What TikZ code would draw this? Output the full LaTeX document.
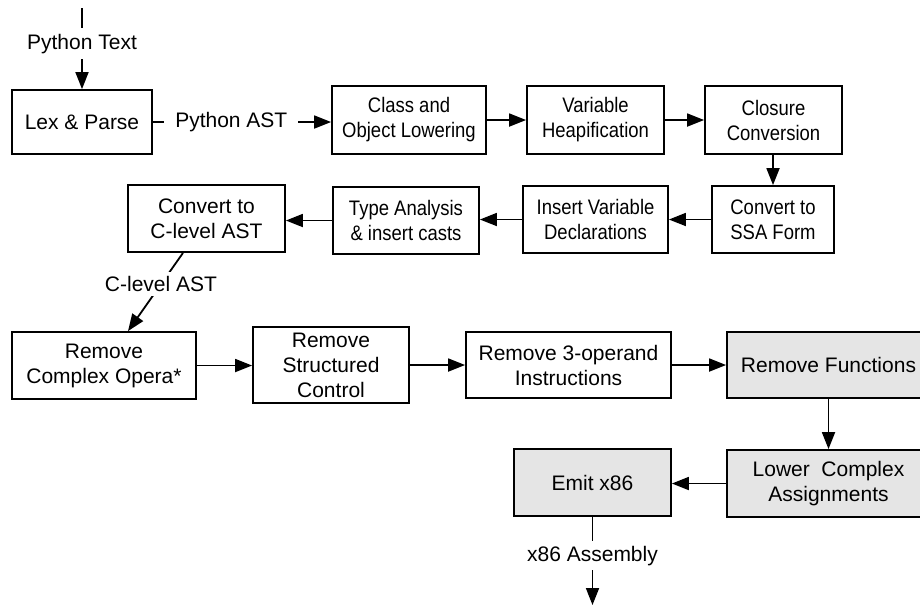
\documentclass[tikz,border=0pt]{standalone}
\usepackage{fontspec}
\setmainfont{Liberation Sans}
\newfontfamily\narrowfont[FakeStretch=0.88]{Liberation Sans}
\usetikzlibrary{arrows.meta}
\definecolor{boxgray}{HTML}{E5E5E5}
\begin{document}
\begin{tikzpicture}[x=1pt,y=-1pt,
  every node/.style={font=\fontsize{21}{25}\selectfont},
  stage/.style={draw, line width=1.8pt, inner sep=0pt, align=center, fill=white},
  grey/.style={stage, fill=boxgray},
  narrow/.style={font=\fontsize{21}{25}\selectfont\narrowfont},
  flow/.style={line width=1.8pt, -{Triangle[length=17pt,width=13pt]}},
  lab/.style={fill=white, inner sep=6pt}]
\useasboundingbox (0,0) rectangle (920,606);
\clip (0,0) rectangle (920,606);
\node[stage, minimum width=140pt, minimum height=64pt] (lex) at (82,122) {Lex \& Parse};
\node[stage, narrow, minimum width=154pt, minimum height=68pt] (cls) at (409,120) {Class and\\Object Lowering};
\node[stage, narrow, minimum width=137pt, minimum height=68pt] (heap) at (595.5,120) {Variable\\Heapification};
\node[stage, narrow, minimum width=137pt, minimum height=68pt] (clo) at (773.5,120) {Closure\\Conversion};
\node[stage, narrow, minimum width=122pt, minimum height=67pt] (ssa) at (773,219.5) {Convert to\\SSA Form};
\node[stage, narrow, minimum width=145pt, minimum height=67pt] (ins) at (595.5,219.5) {Insert Variable\\Declarations};
\node[stage, narrow, minimum width=146pt, minimum height=67pt] (typ) at (406,220.5) {Type Analysis\\\& insert casts};
\node[stage, minimum width=157pt, minimum height=67pt] (cl) at (206.5,218.5) {Convert to\\C-level AST};
\node[stage, minimum width=184pt, minimum height=67pt] (rco) at (104,365.5) {Remove\\Complex Opera*};
\node[stage, minimum width=156pt, minimum height=76pt] (rsc) at (331,365) {Remove\\Structured\\Control};
\node[stage, minimum width=205pt, minimum height=66pt] (r3) at (568.5,365) {Remove 3-operand\\Instructions};
\node[grey, minimum width=203pt, minimum height=66pt] (rf) at (828.5,365) {Remove Functions};
\node[grey, minimum width=203pt, minimum height=67pt] (lca) at (828.5,483.5) {Lower\ \ Complex\\Assignments};
\node[grey, minimum width=157pt, minimum height=67pt] (emit) at (592.5,482.5) {Emit x86};
\coordinate (src) at (82,8);
\coordinate (out) at (592.5,605);
\draw[flow] (src) -- node[lab, pos=0.44] {Python Text} (lex);
\draw[flow] (lex.east) -- node[lab, pos=0.44, inner xsep=11pt] {Python AST} (lex.east -| cls.west);
\draw[flow] (cls) -- (heap);
\draw[flow] (heap) -- (clo);
\draw[flow] (clo.south -| ssa) -- (ssa);
\draw[flow] (ssa) -- (ins);
\draw[flow] (ins) -- (ins -| typ.east);
\draw[flow] (typ.west) -- (typ.west -| cl.east);
\draw[flow] ([xshift=-23.5pt]cl.south) -- node[lab, pos=0.4, inner sep=4pt] {C-level AST} ([xshift=24pt]rco.north);
\draw[flow] (rco) -- (rco -| rsc.west);
\draw[flow] (rsc) -- (r3);
\draw[flow] (r3) -- (rf);
\draw[flow] (rf) -- (lca);
\draw[flow] (lca.west) -- (lca.west -| emit.east);
\draw[flow] (emit) -- node[lab, pos=0.44, inner sep=5pt] {x86 Assembly} (out);
\end{tikzpicture}
\end{document}
